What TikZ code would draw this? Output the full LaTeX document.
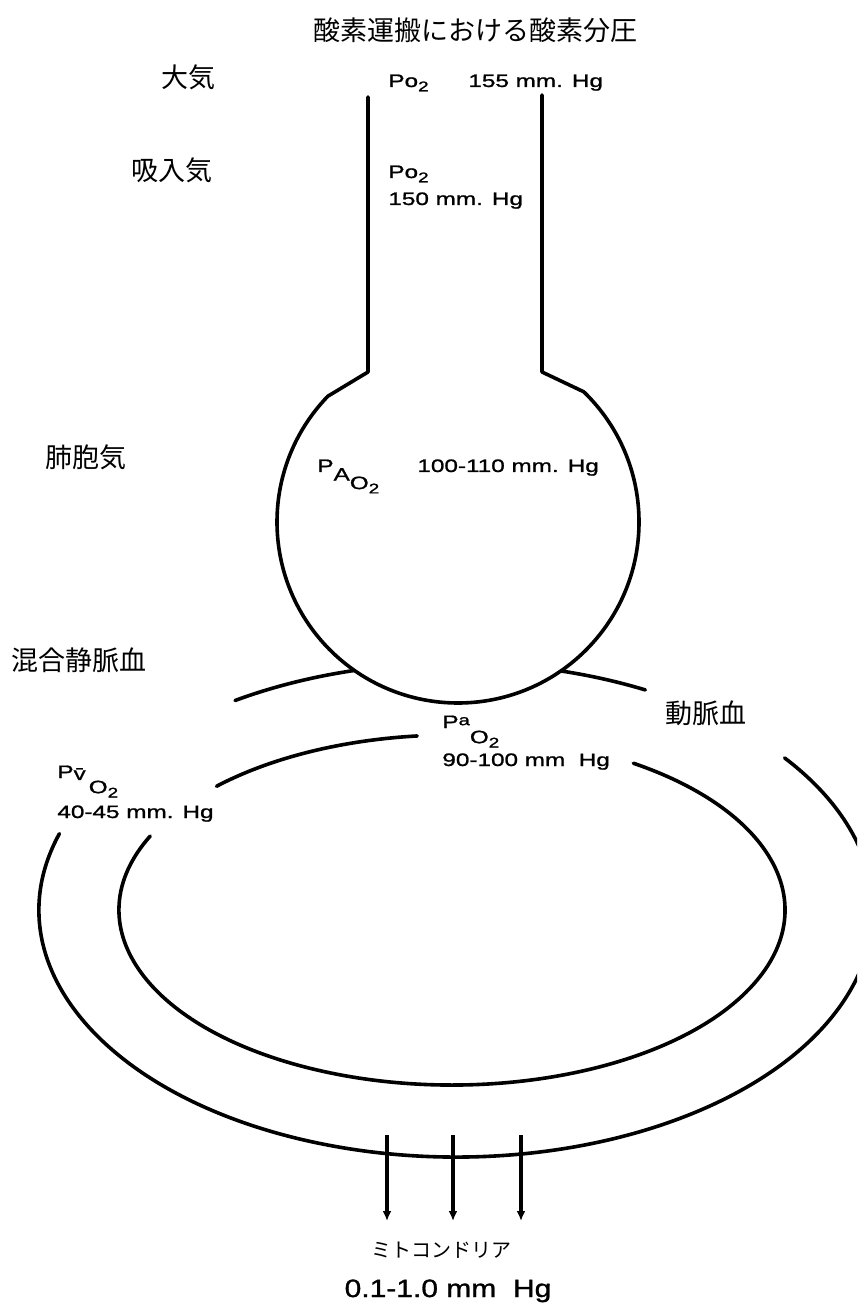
\documentclass[tikz,border=0pt]{standalone}
\usepackage{fontspec}
\usetikzlibrary{arrows.meta,positioning}
\newfontfamily\jpfont{Noto Sans CJK JP}
\newfontfamily\scanfont[FakeStretch=1.35,FakeBold=1.2]{Liberation Sans}
\newfontfamily\bigscan[FakeStretch=1.2,FakeBold=1.2]{Liberation Sans}
\newcommand\lowsub[1]{\raisebox{-0.45ex}{\fontsize{7}{8}\selectfont #1}}

\begin{document}
\begin{tikzpicture}[
  x=0.5pt, y=-0.5pt,
  wall/.style={line width=1.8pt, line cap=round, line join=round},
  tag/.style={font=\jpfont\fontsize{13.5}{15}\selectfont, inner sep=0pt},
  val/.style={font=\scanfont\fontsize{9}{11}\selectfont, inner sep=0pt, anchor=base west},
  flow/.style={line width=1.6pt, -{Latex[length=5pt,width=4.5pt]}}
]
  \clip (0,0) rectangle (857,1309);
  \fill[white] (0,0) rectangle (857,1309);

  \coordinate (alv) at (458,522);
  \coordinate (ring) at (456,910);
  \coordinate (core) at (452,910);
  \coordinate (nl) at (368,372);
  \coordinate (nr) at (542,372);

  % airway and alveolus
  \draw[wall] (368,97) -- (nl) -- ([shift={(224:181)}]alv)
    arc[start angle=224, end angle=-46, radius=181] -- (nr) -- (542,95);

  % capillary ring
  \begin{scope}[even odd rule]
    \clip (0,0) rectangle (857,1309) (alv) circle[radius=181];
    \draw[wall] ([shift={(238:417 and 247)}]ring)
      arc[start angle=238, end angle=297, x radius=417, y radius=247];
  \end{scope}
  \draw[wall] ([shift={(198:417 and 247)}]ring)
    arc[start angle=198, end angle=-38, x radius=417, y radius=247];
  \draw[wall] ([shift={(205:333 and 175)}]core)
    arc[start angle=205, end angle=-57, x radius=333, y radius=175];
  \draw[wall] ([shift={(225:333 and 175)}]core)
    arc[start angle=225, end angle=264, x radius=333, y radius=175];

  % diffusion into tissue
  \foreach \i/\x in {1/387,2/453,3/521}{
    \coordinate (m\i) at (\x,1135);
    \coordinate (t\i) at (\x,1221);
    \draw[flow] (m\i) -- (t\i);
  }

  \node[tag] (title) at (475,30) {酸素運搬における酸素分圧};
  \node[tag] (atm) at (188,77) {大気};
  \node[tag] (insp) at (172,170) {吸入気};
  \node[tag] (alvgas) at (86,457) {肺胞気};
  \node[tag] (mixv) at (79,660) {混合静脈血};
  \node[tag] (art) at (706,713) {動脈血};

  \node[val] (atmp) at (388,87) {Po\lowsub{2}};
  \node[val] (atmv) at (468,87) {155 mm. Hg};
  \node[val] (inspp) at (388,178) {Po\lowsub{2}};
  \node[val] (inspv) at (388,205) {150 mm. Hg};
  \node[val] (alvp) at (317,472) {P\raisebox{-0.9ex}{A\raisebox{-0.9ex}{O\lowsub{2}}}};
  \node[val] (alvv) at (417,472) {100-110 mm. Hg};
  \node[val] (artp) at (442,728) {P\raisebox{0.3ex}{\fontsize{7.5}{8}\selectfont a}\raisebox{-1.6ex}{O\lowsub{2}}};
  \node[val] (artv) at (442,766) {90-100 mm\ \ Hg};
  \node[val] (venp) at (57,778) {P\raisebox{-0.2ex}{\={v}}\raisebox{-1.6ex}{\,O\lowsub{2}}};
  \node[val] (venv) at (57,818) {40-45 mm. Hg};

  \node[tag, font=\jpfont\fontsize{10}{12}\selectfont] (mito) at (441,1250) {ミトコンドリア};
  \node[inner sep=0pt, anchor=base, font=\bigscan\fontsize{12.5}{14}\selectfont] (mitov) at (448,1297) {0.1-1.0 mm\ \ Hg};
\end{tikzpicture}
\end{document}
